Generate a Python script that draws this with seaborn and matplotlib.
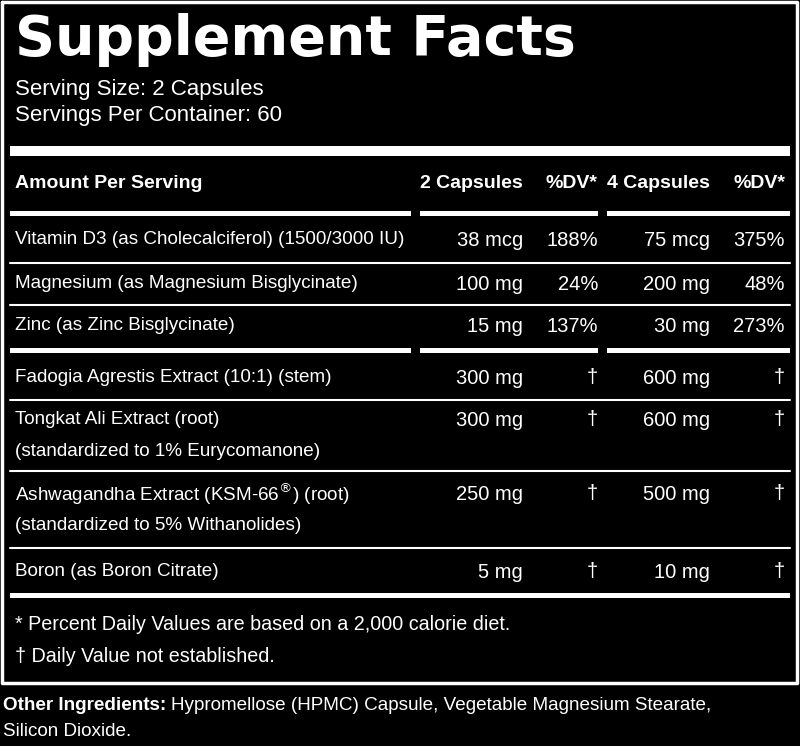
import matplotlib
matplotlib.use("Agg")
import matplotlib.pyplot as plt
import seaborn as sns
from matplotlib import font_manager as fm

sns.set_theme(style="white")
names = {f.name for f in fm.fontManager.ttflist}
narrow = "Liberation Sans Narrow" if "Liberation Sans Narrow" in names else "Liberation Sans"
plt.rcParams['font.family'] = ['Liberation Sans', 'DejaVu Sans']

title = "Supplement Facts"
serving = ["Serving Size: 2 Capsules", "Servings Per Container: 60"]
headers = ["Amount Per Serving", "2 Capsules", "%DV*", "4 Capsules", "%DV*"]
ingredients = [["Vitamin D3 (as Cholecalciferol) (1500/3000 IU)"],
               ["Magnesium (as Magnesium Bisglycinate)"],
               ["Zinc (as Zinc Bisglycinate)"],
               ["Fadogia Agrestis Extract (10:1) (stem)"],
               ["Tongkat Ali Extract (root)", "(standardized to 1% Eurycomanone)"],
               ["Ashwagandha Extract (KSM-66$^{®}$) (root)", "(standardized to 5% Withanolides)"],
               ["Boron (as Boron Citrate)"]]
amount2 = ["38 mcg", "100 mg", "15 mg", "300 mg", "300 mg", "250 mg", "5 mg"]
dv2 = ["188%", "24%", "137%", "†", "†", "†", "†"]
amount4 = ["75 mcg", "200 mg", "30 mg", "600 mg", "600 mg", "500 mg", "10 mg"]
dv4 = ["375%", "48%", "273%", "†", "†", "†", "†"]
footnotes = ["* Percent Daily Values are based on a 2,000 calorie diet.",
             "† Daily Value not established."]
other_bold = "Other Ingredients:"
other_text = ["Hypromellose (HPMC) Capsule, Vegetable Magnesium Stearate,", "Silicon Dioxide."]

fig = plt.figure(figsize=(8, 7.46), dpi=100, facecolor="black")
ax = fig.add_axes([0, 0, 1, 1])
ax.set_facecolor("black")
ax.set_xlim(0, 800); ax.set_ylim(746, 0); ax.axis("off")
W = "white"
FS = 13.6

ax.plot([2, 797, 797, 2, 2], [2, 2, 683, 683, 2], color=W, lw=2.5)
ax.text(15, 40, title, color=W, fontsize=40, fontweight="heavy", family=["DejaVu Sans"], va="center")
ax.text(15, 89, serving[0], color=W, fontsize=16, va="center")
ax.text(15, 116, serving[1], color=W, fontsize=16, va="center")
ax.fill_between([10, 790], 146, 156, color=W, lw=0)

colx = [15, 523, 598, 710, 785]
segs = [(10, 411), (420, 598), (607, 790)]
def segbar(y, h=5):
    for a, b in segs:
        ax.fill_between([a, b], y - h / 2, y + h / 2, color=W, lw=0)

ax.text(colx[0], 184, headers[0], color=W, fontsize=14, fontweight="bold", family=[narrow], va="center")
for i in range(1, 5):
    ax.text(colx[i], 184, headers[i], color=W, fontsize=14, fontweight="bold", family=[narrow], va="center", ha="right")
segbar(213)

rows_y = [240, 284, 326, 378, 420, 494, 572]
seps = [(263, 1.5, False), (305, 1.5, False), (350, 5, True), (400, 1.5, False),
        (471, 1.5, False), (548, 1.5, False), (595, 5, "full")]
for i, y in enumerate(rows_y):
    for j, line in enumerate(ingredients[i]):
        ax.text(colx[0], y + 32 * j, line, color=W, fontsize=FS, family=[narrow], va="center")
    for x, col in zip(colx[1:], [amount2, dv2, amount4, dv4]):
        ax.text(x, y, col[i], color=W, fontsize=14.5, family=[narrow], va="center", ha="right")
for y, h, kind in seps:
    if kind == "full":
        ax.fill_between([10, 790], y - h / 2, y + h / 2, color=W, lw=0)
    elif kind:
        segbar(y, h)
    else:
        ax.plot([10, 790], [y, y], color=W, lw=h)

ax.text(15, 625, footnotes[0], color=W, fontsize=14.2, family=[narrow], va="center")
ax.text(15, 656, footnotes[1], color=W, fontsize=14.2, family=[narrow], va="center")

t = ax.text(3, 705, other_bold, color=W, fontsize=FS, fontweight="bold", family=[narrow], va="center")
fig.canvas.draw()
bb = t.get_window_extent()
ax.text(bb.x1 + 5, 705, other_text[0], color=W, fontsize=FS, family=[narrow], va="center")
ax.text(3, 732, other_text[1], color=W, fontsize=FS, family=[narrow], va="center")

fig.savefig("out.png", dpi=100, facecolor="black")
